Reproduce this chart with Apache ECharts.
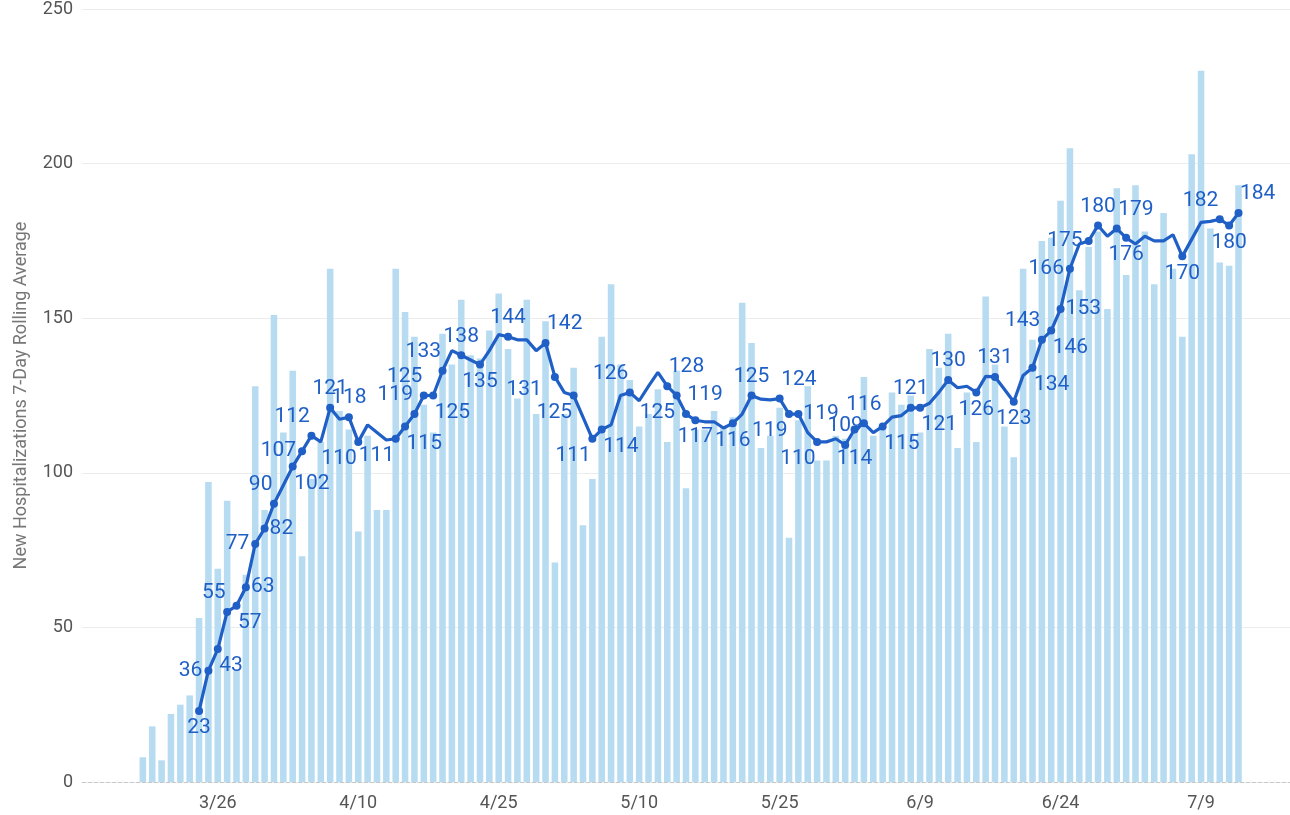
<!DOCTYPE html>
<html>
<head>
<meta charset="utf-8">
<script src="https://cdn.jsdelivr.net/npm/echarts@6/dist/echarts.min.js"></script>
<style>
  html, body { margin: 0; padding: 0; background: #ffffff; }
  #chart { width: 1290px; height: 815px; }
</style>
</head>
<body>
<div id="chart"></div>
<script>
// Reporting window: daily figures run from 3/18 to 7/13 (2020).
const firstDataDay = [2020, 2, 18];   // year, month index, day
const axisPadBefore = 6;              // empty days shown before the first report
const axisPadAfter = 5;               // empty days shown after the last report

// New hospitalizations reported each day
const dailyNew = [
  8, 18, 7, 22, 25, 28, 53, 97, 69, 91,
  36, 67, 128, 88, 151, 113, 133, 73, 98, 110,
  166, 120, 114, 81, 112, 88, 88, 166, 152, 144,
  122, 113, 145, 135, 156, 138, 137, 146, 158, 140,
  124, 156, 119, 149, 71, 119, 134, 83, 98, 144,
  161, 135, 130, 115, 119, 127, 110, 133, 95, 114,
  114, 120, 115, 118, 155, 142, 108, 112, 121, 79,
  117, 128, 104, 104, 112, 111, 113, 131, 112, 114,
  126, 122, 125, 113, 140, 134, 145, 108, 126, 110,
  157, 135, 115, 105, 166, 143, 175, 176, 188, 205,
  159, 173, 178, 153, 192, 164, 193, 178, 161, 184,
  166, 144, 203, 230, 179, 168, 167, 193
];

// 7-day rolling average (available from the seventh day on)
const rollingAvg = [
  null, null, null, null, null, null,
  23, 36, 43, 55, 57, 63, 77, 82, 90, 96,
  102, 107, 112, 110, 121, 117.3, 118, 110, 115.5, 113,
  110.6, 111, 115, 119, 125, 125, 133, 139.5, 138, 136.5,
  135, 139.5, 144.7, 144, 143, 143, 139.5, 142, 131, 126,
  125, 118, 111, 114, 115.5, 125, 126, 123.3, 128, 132.5,
  128, 125, 119, 117, 116.5, 116.5, 114.5, 116, 119, 125,
  123.8, 123.6, 124, 119, 119, 113, 110, 110, 111, 109,
  114, 116, 113, 115, 118, 118.5, 121, 121, 122.5, 126,
  130, 127.5, 128, 126, 131.2, 131, 127, 123, 131.5, 134,
  143, 146, 153, 166, 174, 175, 180, 176.5, 179, 176,
  174, 176.5, 175, 175, 177, 170, 175.5, 181, 181.3, 182,
  180, 184
];

// Value axis ticks
const yMin = 0, yMax = 250, yStep = 50;

// Dates whose average is called out, with the side the number sits on
const calloutSide = {
  '3/24': 'S',  '3/25': 'W',  '3/26': 'SE', '3/27': 'NW', '3/28': 'SE',
  '3/29': 'E',  '3/30': 'W',  '3/31': 'E',  '4/1': 'NW',  '4/3': 'SE',
  '4/4': 'W',   '4/5': 'NW',  '4/7': 'N',   '4/9': 'N',   '4/10': 'SW',
  '4/14': 'SW', '4/15': 'SE', '4/16': 'NW', '4/17': 'NW', '4/18': 'SE',
  '4/19': 'NW', '4/21': 'N',  '4/23': 'S',  '4/26': 'N',  '4/30': 'NE',
  '5/1': 'WSW', '5/3': 'SW',  '5/5': 'SW',  '5/6': 'SE',  '5/9': 'NW',
  '5/13': 'NE', '5/14': 'SW', '5/15': 'NE', '5/16': 'S',  '5/20': 'S',
  '5/22': 'N',  '5/25': 'NE', '5/26': 'SW', '5/27': 'E',  '5/29': 'SW',
  '6/1': 'N',   '6/2': 'SS',  '6/3': 'N',   '6/5': 'SE',  '6/8': 'N',
  '6/9': 'SE',  '6/12': 'N',  '6/15': 'S',  '6/17': 'N',  '6/19': 'S',
  '6/21': 'SE', '6/22': 'NW', '6/23': 'SE', '6/24': 'E',  '6/25': 'W',
  '6/27': 'W',  '6/28': 'N',  '6/30': 'NE', '7/1': 'S',   '7/7': 'S',
  '7/11': 'NW', '7/12': 'S',  '7/13': 'NE'
};

// Date labels shown along the bottom (every 15 days)
const tickDates = ['3/26', '4/10', '4/25', '5/10', '5/25', '6/9', '6/24', '7/9'];

// ---- build the category axis (one slot per calendar day) ----
function fmt(d) { return (d.getMonth() + 1) + '/' + d.getDate(); }
const axisDates = [];
const totalDays = axisPadBefore + dailyNew.length + axisPadAfter;
for (let i = 0; i < totalDays; i++) {
  const d = new Date(firstDataDay[0], firstDataDay[1], firstDataDay[2] - axisPadBefore + i);
  axisDates.push(fmt(d));
}

const barData = axisDates.map((_, i) => {
  const k = i - axisPadBefore;
  return (k >= 0 && k < dailyNew.length) ? dailyNew[k] : null;
});

const BLUE = '#1f5fc6';
const DOT = 8;
const LABEL_SIZE = 21;
const DIGIT_W = LABEL_SIZE * 0.562;

// Centre of the callout text relative to the dot centre
function calloutShift(side, text) {
  const half = text.length * DIGIT_W / 2;
  switch (side) {
    case 'N':  return [0, -19];
    case 'S':  return [0, 17];
    case 'SS': return [0, 29];
    case 'E':  return [half + 5, 0];
    case 'W':  return [-(half + 6), 0];
    case 'NE': return [half + 1.5, -19];
    case 'NW': return [-(half + 1.5), -19];
    case 'SE': return [half + 1.5, 17];
    case 'SW': return [-(half + 1.5), 17];
    case 'WSW': return [-(half + 13), 13];
    default: return [0, -19];
  }
}

const lineData = axisDates.map((date, i) => {
  const k = i - axisPadBefore;
  if (k < 0 || k >= rollingAvg.length || rollingAvg[k] == null) return null;
  const v = rollingAvg[k];
  const side = calloutSide[date];
  if (!side) return { value: v, symbol: 'none' };
  const text = String(v);
  const s = calloutShift(side, text);
  return {
    value: v,
    symbol: 'circle',
    symbolSize: DOT,
    label: {
      show: true,
      // position is measured from the dot's bounding box corner
      position: [DOT / 2 + s[0], DOT / 2 + s[1]],
      align: 'center',
      verticalAlign: 'middle',
      formatter: text
    }
  };
});

const chart = echarts.init(document.getElementById('chart'), null, { renderer: 'canvas' });

chart.setOption({
  animation: false,
  backgroundColor: '#ffffff',
  textStyle: { fontFamily: 'Roboto' },
  grid: { left: 82, right: 0, top: 9, bottom: 33, containLabel: false },
  xAxis: {
    type: 'category',
    data: axisDates,
    boundaryGap: true,
    axisTick: { show: false },
    axisLine: { show: true, lineStyle: { color: '#c8c8c8', type: 'dashed', width: 1 } },
    axisLabel: {
      interval: (idx, val) => tickDates.indexOf(val) !== -1,
      color: '#555555',
      fontSize: 18,
      fontFamily: 'Roboto',
      margin: 12
    },
    splitLine: { show: false }
  },
  yAxis: {
    type: 'value',
    min: yMin,
    max: yMax,
    interval: yStep,
    name: 'New Hospitalizations 7-Day Rolling Average',
    nameLocation: 'middle',
    nameRotate: 90,
    nameGap: 52,
    nameTextStyle: { color: '#777777', fontSize: 18, fontFamily: 'Roboto' },
    axisLine: { show: false },
    axisTick: { show: false },
    axisLabel: { color: '#555555', fontSize: 18, fontFamily: 'Roboto', margin: 9 },
    splitLine: { show: true, showMinLine: false, lineStyle: { color: '#ececec', width: 1 } }
  },
  series: [
    {
      name: 'New Hospitalizations',
      type: 'bar',
      data: barData,
      barCategoryGap: '30%',
      itemStyle: { color: '#b7dcf1' },
      silent: true,
      z: 1
    },
    {
      name: '7-Day Rolling Average',
      type: 'line',
      data: lineData,
      showAllSymbol: true,
      connectNulls: false,
      lineStyle: { color: BLUE, width: 3.2 },
      itemStyle: { color: BLUE },
      label: {
        show: false,
        color: BLUE,
        fontSize: LABEL_SIZE,
        fontFamily: 'Roboto',
        align: 'center',
        verticalAlign: 'middle'
      },
      labelLayout: { hideOverlap: false },
      emphasis: { disabled: true },
      silent: true,
      z: 3
    }
  ]
});
</script>
</body>
</html>
